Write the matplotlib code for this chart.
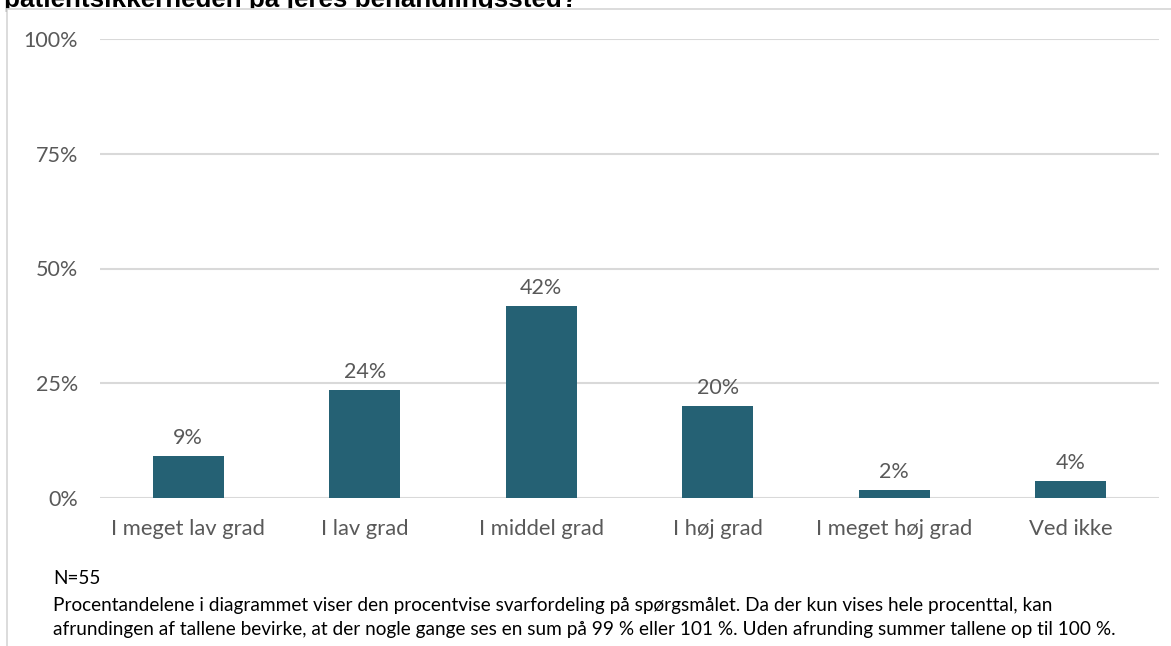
import matplotlib
matplotlib.use("Agg")
import matplotlib.pyplot as plt
from matplotlib.patches import Rectangle
from matplotlib.ticker import FixedLocator

categories = ["I meget lav grad", "I lav grad", "I middel grad", "I høj grad",
              "I meget høj grad", "Ved ikke"]
values = [9.1, 23.6, 41.8, 20.0, 1.8, 3.6]
labels = ["9%", "24%", "42%", "20%", "2%", "4%"]
yticks = [0, 25, 50, 75, 100]
ytick_labels = ["0%", "25%", "50%", "75%", "100%"]
title = "patientsikkerheden på jeres behandlingssted?"
note_n = "N=55"
note_lines = [
    "Procentandelene i diagrammet viser den procentvise svarfordeling på spørgsmålet. Da der kun vises hele procenttal, kan",
    "afrundingen af tallene bevirke, at der nogle gange ses en sum på 99 % eller 101 %. Uden afrunding summer tallene op til 100 %.",
]

W, H = 1171, 646
DPI = 100
FONT = ["Lato", "DejaVu Sans"]
BAR = "#256174"
TXT = "#595959"
GRID = "#d9d9d9"

def px(v):
    return v * 72 / DPI

fig = plt.figure(figsize=(W / DPI, H / DPI), dpi=DPI)
fig.patch.set_facecolor("white")

# title sits behind the chart box, so only its upper part... its visible strip shows
fig.text(4 / W, (H - 7.5) / H, title, ha="left", va="baseline",
         fontsize=px(26), fontweight="bold", family=["Liberation Sans"],
         color="black", zorder=-2)

# outer chart box (partially outside the image), covers the title's descenders
fig.patches.append(Rectangle((6.5 / W, -0.1), 1.2, (H - 9) / H + 0.1,
                             transform=fig.transFigure, facecolor="white",
                             edgecolor=GRID, lw=1.3, zorder=-1))

ax = fig.add_axes([100 / W, 148 / H, (1159 - 100) / W, (607 - 148) / H])
ax.patch.set_alpha(0)
x = list(range(len(categories)))
ax.bar(x, values, width=0.40, color=BAR, zorder=3)
ax.set_xlim(-0.5, len(categories) - 0.5)
ax.set_ylim(0, 100)
ax.yaxis.set_major_locator(FixedLocator(yticks))
ax.set_yticklabels(ytick_labels, fontsize=px(21.5), color=TXT, family=FONT)
ax.set_xticks(x)
ax.set_xticklabels(categories, fontsize=px(22), color=TXT, family=FONT)
ax.tick_params(axis="both", length=0)
ax.tick_params(axis="y", pad=px(22))
ax.tick_params(axis="x", pad=px(21))
ax.grid(axis="y", color=GRID, lw=1.5, zorder=0)
for s in ax.spines.values():
    s.set_visible(False)

for xi, v, lab in zip(x, values, labels):
    ax.annotate(lab, (xi, v), xytext=(0, px(8)), textcoords="offset points",
                ha="center", va="bottom", fontsize=px(21.5), color=TXT, family=FONT)

fig.text(53 / W, 1 - 578 / H, note_n, ha="left", va="center",
         fontsize=px(19), family=FONT, color="black")
for i, line in enumerate(note_lines):
    fig.text(53 / W, 1 - (605 + 24 * i) / H, line, ha="left", va="center",
             fontsize=px(19), family=FONT, color="black")

fig.savefig("out.png", dpi=DPI)
